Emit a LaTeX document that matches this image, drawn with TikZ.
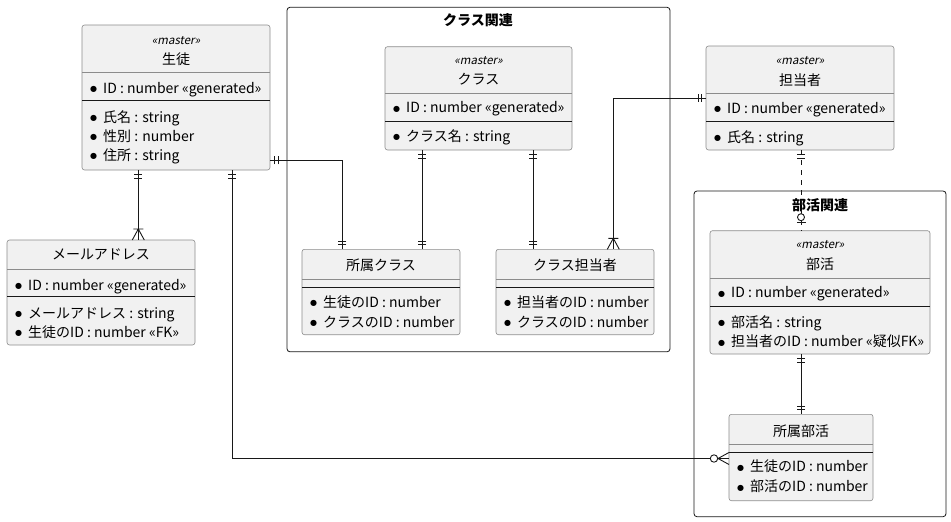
\documentclass[tikz,border=0pt]{standalone}
\usepackage{fontspec}
\setmainfont{Noto Sans CJK JP}
\newfontfamily\stfont{Noto Sans CJK JP}[FakeSlant=0.2]
\newfontfamily\symfont{DejaVu Sans}
\usepackage{xcolor}
\usepackage{tikz}
\usetikzlibrary{positioning,calc}
\definecolor{entfill}{HTML}{F1F1F1}
\definecolor{entline}{HTML}{8C8C8C}
\definecolor{ink}{HTML}{181818}
\newcommand{\fsz}{\fontsize{14}{17}\selectfont}
\newcommand{\bul}{\raisebox{1.8pt}{\symfont\fontsize{8}{8}\selectfont ●}\hspace{6pt}}

\begin{document}
\begin{tikzpicture}[
  x=1pt, y=-1pt,
  ent/.style={draw=entline, fill=entfill, rounded corners=2.5pt, line width=0.6pt,
              inner sep=0pt, outer sep=0pt, anchor=north west},
  pkg/.style={draw=ink, rounded corners=3pt, line width=0.8pt,
              inner sep=0pt, outer sep=0pt, anchor=north west},
  ttl/.style={font=\bfseries\fsz, inner sep=0pt},
  stereo/.style={font=\stfont\fontsize{11.5}{12}\selectfont, inner sep=0pt},
  ename/.style={font=\fsz, inner sep=0pt, text height=10pt, text depth=1pt},
  fld/.style={font=\fsz, inner sep=0pt, text height=10pt, text depth=1pt, anchor=west},
  gsep/.style={draw=entline, line width=0.6pt},
  ksep/.style={draw=ink, line width=0.8pt},
  rel/.style={draw=ink, line width=0.9pt},
  dep/.style={rel, dash pattern=on 5pt off 5pt},
  mk/.style={pos=1, sloped, allow upside down},
  mkstart/.style={pos=0, sloped, allow upside down, rotate=180},
  pics/one/.style={code={\draw[ink, line width=0.9pt, solid] (-4.5,-4) -- (-4.5,4) (-8,-4) -- (-8,4);}},
  pics/crow/.style={code={\draw[ink, line width=0.9pt, solid] (-11,-5) -- (-11,5) (0,-6) -- (-11,0) -- (0,6);}},
  pics/zmany/.style={code={\draw[ink, line width=0.9pt, solid] (0,-6) -- (-11,0) -- (0,6);
                           \draw[ink, line width=0.9pt, solid, fill=white] (-15,0) circle (3.7);}},
  pics/zone/.style={code={\draw[ink, line width=0.9pt, solid] (-8,-4.5) -- (-8,4.5);
                          \draw[ink, line width=0.9pt, solid, fill=white] (-13.5,0) circle (3.5);}}
]
\useasboundingbox (0,0) rectangle (951,522);

\node[pkg, minimum width=383, minimum height=344.5] (pcl) at (287,7.3) {};
\node[ttl] (pcl-t) at (478,20) {クラス関連};
\node[pkg, minimum width=252, minimum height=325.7] (pbk) at (694,191) {};
\node[ttl] (pbk-t) at (820,205) {部活関連};

% 生徒
\node[ent, minimum width=188, minimum height=145] (st) at (82,25) {};
\node[stereo] (st-s) at (176,40.5) {«master»};
\node[ename] (st-n) at (176,60) {生徒};
\draw[gsep] (82,72.5) -- (270,72.5);
\node[fld] (st-f1) at (90,89) {\bul ID : number «generated»};
\draw[ksep] (82,100.5) -- (270,100.5);
\node[fld] (st-f2) at (90,118) {\bul 氏名 : string};
\node[fld] (st-f3) at (90,137) {\bul 性別 : number};
\node[fld] (st-f4) at (90,156) {\bul 住所 : string};

% メールアドレス
\node[ent, minimum width=188, minimum height=105] (ml) at (7,240) {};
\node[ename] (ml-n) at (101,255) {メールアドレス};
\draw[gsep] (7,269.3) -- (195,269.3);
\node[fld] (ml-f1) at (15,286) {\bul ID : number «generated»};
\draw[ksep] (7,296.7) -- (195,296.7);
\node[fld] (ml-f2) at (15,314) {\bul メールアドレス : string};
\node[fld] (ml-f3) at (15,332.7) {\bul 生徒のID : number «FK»};

% クラス
\node[ent, minimum width=187, minimum height=103.3] (cl) at (385,46.7) {};
\node[stereo] (cl-s) at (478.5,60.7) {«master»};
\node[ename] (cl-n) at (478.5,80) {クラス};
\draw[gsep] (385,93.3) -- (572,93.3);
\node[fld] (cl-f1) at (393,108.3) {\bul ID : number «generated»};
\draw[ksep] (385,121.3) -- (572,121.3);
\node[fld] (cl-f2) at (393,136.7) {\bul クラス名 : string};

% 所属クラス
\node[ent, minimum width=158, minimum height=85.4] (sk) at (302,249.3) {};
\node[ename] (sk-n) at (381,265.7) {所属クラス};
\draw[gsep] (302,279.3) -- (460,279.3);
\draw[ksep] (302,287.3) -- (460,287.3);
\node[fld] (sk-f1) at (310,302.7) {\bul 生徒のID : number};
\node[fld] (sk-f2) at (310,322.7) {\bul クラスのID : number};

% クラス担当者
\node[ent, minimum width=158, minimum height=85.4] (ct) at (496,249.3) {};
\node[ename] (ct-n) at (575,265.7) {クラス担当者};
\draw[gsep] (496,279.3) -- (654,279.3);
\draw[ksep] (496,287.3) -- (654,287.3);
\node[fld] (ct-f1) at (504,302.7) {\bul 担当者のID : number};
\node[fld] (ct-f2) at (504,322.7) {\bul クラスのID : number};

% 担当者
\node[ent, minimum width=188, minimum height=104] (tt) at (706,46) {};
\node[stereo] (tt-s) at (800,60.7) {«master»};
\node[ename] (tt-n) at (800,80.5) {担当者};
\draw[gsep] (706,93.3) -- (894,93.3);
\node[fld] (tt-f1) at (714,109) {\bul ID : number «generated»};
\draw[ksep] (706,121) -- (894,121);
\node[fld] (tt-f2) at (714,137.5) {\bul 氏名 : string};

% 部活
\node[ent, minimum width=220, minimum height=123.3] (bk) at (710,230.7) {};
\node[stereo] (bk-s) at (820,244.3) {«master»};
\node[ename] (bk-n) at (820,265) {部活};
\draw[gsep] (710,278.3) -- (930,278.3);
\node[fld] (bk-f1) at (718,293.3) {\bul ID : number «generated»};
\draw[ksep] (710,306.3) -- (930,306.3);
\node[fld] (bk-f2) at (718,322.7) {\bul 部活名 : string};
\node[fld] (bk-f3) at (718,342.3) {\bul 担当者のID : number «疑似FK»};

% 所属部活
\node[ent, minimum width=144, minimum height=86.4] (sb) at (729,414.3) {};
\node[ename] (sb-n) at (801,431.7) {所属部活};
\draw[gsep] (729,444.3) -- (873,444.3);
\draw[ksep] (729,452.3) -- (873,452.3);
\node[fld] (sb-f1) at (737,467.3) {\bul 生徒のID : number};
\node[fld] (sb-f2) at (737,487.3) {\bul 部活のID : number};

\coordinate (c-ml) at (138.3,0);
\coordinate (c-sk) at (342.3,160.3);
\coordinate (c-sb) at (232,458.5);
\coordinate (c-cs) at (422.3,0);
\coordinate (c-ct) at (533.3,0);
\coordinate (c-tc) at (613.3,98.3);
\coordinate (c-bk) at (801,0);

\draw[rel] (st.south -| c-ml) -- pic[mkstart]{one} pic[mk]{crow} (ml.north -| c-ml);
\draw[rel] (st.east |- c-sk) -| pic[mkstart]{one} pic[mk]{one} (sk.north -| c-sk);
\draw[rel] (st.south -| c-sb) |- pic[mkstart]{one} pic[mk]{zmany} (sb.west |- c-sb);
\draw[rel] (cl.south -| c-cs) -- pic[mkstart]{one} pic[mk]{one} (sk.north -| c-cs);
\draw[rel] (cl.south -| c-ct) -- pic[mkstart]{one} pic[mk]{one} (ct.north -| c-ct);
\draw[rel] (tt.west |- c-tc) -| pic[mkstart]{one} pic[mk]{crow} (ct.north -| c-tc);
\draw[dep] (tt.south -| c-bk) -- pic[mkstart]{one} pic[mk]{zone} (bk.north -| c-bk);
\draw[rel] (bk.south -| c-bk) -- pic[mkstart]{one} pic[mk]{one} (sb.north -| c-bk);
\end{tikzpicture}
\end{document}
